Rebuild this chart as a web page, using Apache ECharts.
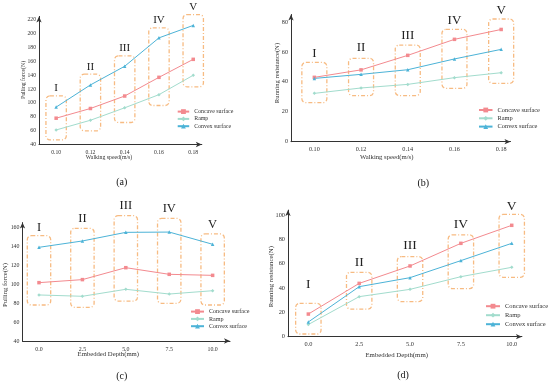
<!DOCTYPE html>
<html>
<head>
<meta charset="utf-8">
<script src="https://cdn.jsdelivr.net/npm/echarts@6/dist/echarts.min.js"></script>
<style>html,body{margin:0;padding:0;background:#fff;}#c{width:550px;height:385px;}</style>
</head>
<body>
<div id="c"></div>
<script>
// ---- data ----
const speedTicks = [0.10, 0.12, 0.14, 0.16, 0.18];
const depthTicks = [0, 2.5, 5, 7.5, 10];
const numerals = ['I', 'II', 'III', 'IV', 'V'];
const seriesNames = ['Concave surface', 'Ramp', 'Convex surface'];

const aConcave = [78, 92, 110, 137, 163];
const aRamp = [61, 75, 93, 112, 140];
const aConvex = [94, 126, 153, 194, 212];
const aBoxTop = [110.3, 141.6, 168, 208.5, 227.7];
const aBoxBottom = [46.8, 59.8, 71.8, 96.3, 123.3];
const aNumeralY = [121.8, 152, 178.6, 219.5, 237.8];
const aYTicks = [40, 60, 80, 100, 120, 140, 160, 180, 200, 220];

const bConcave = [43, 48, 57.7, 68.4, 75];
const bRamp = [32.3, 35.9, 38.3, 42.8, 46.1];
const bConvex = [42.3, 45, 48.1, 55.3, 61.7];
const bBoxTop = [53, 55.7, 64.6, 75.1, 82];
const bBoxBottom = [26.1, 30.8, 30.8, 35.7, 39];
const bNumeralY = [59.1, 62.8, 70.9, 80.7, 87.4];
const bYTicks = [0, 20, 40, 60, 80];

const cConcave = [101.6, 104.8, 117.4, 110.4, 109.3];
const cRamp = [88.6, 87.2, 94.6, 89.6, 93.1];
const cConvex = [138.9, 145.6, 154.7, 155, 142.1];
const cBoxTop = [151.2, 159, 172.3, 169.5, 153];
const cBoxBottom = [78, 75.6, 82.2, 79.8, 78];
const cNumeralY = [160, 169.5, 182.9, 179.4, 162.8];
const cYTicks = [40, 60, 80, 100, 120, 140, 160];

const dConcave = [18.6, 43.8, 58.1, 76.7, 91.5];
const dRamp = [10, 32.9, 38.9, 49.3, 57];
const dConvex = [12.1, 41.1, 48.5, 62.5, 76.7];
const dBoxTop = [27.4, 52.9, 65.8, 83.6, 100.5];
const dBoxBottom = [2.2, 22.7, 28.8, 39.5, 48.8];
const dNumeralY = [43, 60.8, 75.3, 92.3, 107.4];
const dYTicks = [0, 20, 40, 60, 80, 100];

// ---- layout / style ----
const colors = ['#f38a8f', '#a2dccd', '#4cb3d7'];
const symbols = ['rect', 'diamond', 'triangle'];
const boxColor = '#f7bb82';
const FONT = '"Liberation Serif", "Times New Roman", serif';

const panels = [
  { x: speedTicks, ys: [aConcave, aRamp, aConvex], top: aBoxTop, bot: aBoxBottom, ny: aNumeralY, yt: aYTicks,
    grid: { left: 39, top: 16.4, width: 162.8, height: 128.1 }, xmin: 0.09, xmax: 0.185, ymin: 40, ymax: 225,
    hw: 10.2, numSize: 11, fs: 5.7, tfs: 5.8, xTitle: 'Walking speed(m/s)', yTitle: 'Pulling force(N)',
    xt: [109, 157.7], ytp: [23.3, 80], tag: '(a)', tagp: [121.7, 182.7],
    legend: { left: 176.7, top: 108.6, itemWidth: 11.5, gap: 1.3 } },
  { x: speedTicks, ys: [bConcave, bRamp, bConvex], top: bBoxTop, bot: bBoxBottom, ny: bNumeralY, yt: bYTicks,
    grid: { left: 291, top: 14.5, width: 219.5, height: 127.2 }, xmin: 0.09, xmax: 0.184, ymin: 0, ymax: 85,
    hw: 12.5, numSize: 13, fs: 6.2, tfs: 6.7, xTitle: 'Walking speed(m/s)', yTitle: 'Running resistance(N)',
    xt: [386.7, 157.7], ytp: [277.7, 73], tag: '(b)', tagp: [423.3, 183.3],
    legend: { left: 478, top: 107, itemWidth: 13.5, gap: 2.3 } },
  { x: depthTicks, ys: [cConcave, cRamp, cConvex], top: cBoxTop, bot: cBoxBottom, ny: cNumeralY, yt: cYTicks,
    grid: { left: 22.5, top: 222.6, width: 207.5, height: 118.4 }, xmin: -0.95, xmax: 11, ymin: 40, ymax: 165,
    hw: 11.7, numSize: 12.5, fs: 5.9, tfs: 6.7, xTitle: 'Embedded Depth(mm)', yTitle: 'Pulling force(N)',
    xt: [108.3, 354.7], ytp: [5.7, 285], tag: '(c)', tagp: [121.7, 376],
    legend: { left: 190, top: 308.6, itemWidth: 13, gap: 1.3 } },
  { x: depthTicks, ys: [dConcave, dRamp, dConvex], top: dBoxTop, bot: dBoxBottom, ny: dNumeralY, yt: dYTicks,
    grid: { left: 288, top: 210.1, width: 233.9, height: 126.6 }, xmin: -1, xmax: 10.5, ymin: 0, ymax: 104,
    hw: 12.7, numSize: 13.5, fs: 6.3, tfs: 6.8, xTitle: 'Embedded Depth(mm)', yTitle: 'Running resistance(N)',
    xt: [396.7, 355], ytp: [271.7, 276.7], tag: '(d)', tagp: [403, 375.7],
    legend: { left: 485, top: 302.7, itemWidth: 14, gap: 2 } }
];

const option = { animation: false, backgroundColor: '#fff', grid: [], xAxis: [], yAxis: [], series: [], legend: [], graphic: [] };

const axisLineStyle = { show: true, lineStyle: { color: '#333', width: 1 }, symbol: ['none', 'arrow'], symbolSize: [4, 6] };

panels.forEach((p, i) => {
  option.grid.push(Object.assign({ containLabel: false }, p.grid));
  const fmt = v => (p.x === speedTicks ? v.toFixed(2) : v.toFixed(1));
  option.xAxis.push({
    type: 'value', gridIndex: i, min: p.xmin, max: p.xmax,
    axisLine: Object.assign({ onZero: false }, axisLineStyle),
    axisTick: { show: false }, splitLine: { show: false },
    axisLabel: { customValues: p.x, formatter: fmt, fontFamily: FONT, fontSize: p.fs, color: '#333', margin: 5 }
  });
  option.yAxis.push({
    type: 'value', gridIndex: i, min: p.ymin, max: p.ymax,
    axisLine: Object.assign({ onZero: false }, axisLineStyle),
    axisTick: { show: false }, splitLine: { show: false },
    axisLabel: { customValues: p.yt, fontFamily: FONT, fontSize: p.fs, color: '#333', margin: 3 }
  });
  // boxes + numerals
  const boxData = p.x.map((xv, k) => [xv, p.top[k], p.bot[k], p.ny[k], k]);
  option.series.push({
    type: 'custom', xAxisIndex: i, yAxisIndex: i, silent: true, clip: false, z: 1,
    data: boxData,
    renderItem: (params, api) => {
      const xv = api.value(0);
      const c1 = api.coord([xv, api.value(1)]);
      const c2 = api.coord([xv, api.value(2)]);
      const cl = api.coord([xv, api.value(3)]);
      const k = api.value(4);
      return {
        type: 'group',
        children: [
          { type: 'rect', shape: { x: c1[0] - p.hw, y: c1[1], width: 2 * p.hw, height: c2[1] - c1[1], r: 4 },
            style: { fill: 'none', stroke: boxColor, lineWidth: 1.3, lineDash: [4, 2, 1, 2] } },
          { type: 'text', x: cl[0], y: cl[1],
            style: { text: numerals[k], fontFamily: FONT, fontSize: p.numSize, fill: '#222', align: 'center', verticalAlign: 'middle' } }
        ]
      };
    }
  });
  p.ys.forEach((ys, s) => {
    option.series.push({
      type: 'line', name: seriesNames[s], xAxisIndex: i, yAxisIndex: i, z: 3,
      data: p.x.map((xv, k) => [xv, ys[k]]),
      symbol: symbols[s], symbolSize: 3.5, showSymbol: true,
      itemStyle: { color: colors[s] }, lineStyle: { color: colors[s], width: 1 }
    });
  });
  option.legend.push({
    data: seriesNames, orient: 'vertical', left: p.legend.left, top: p.legend.top, padding: 0,
    itemWidth: p.legend.itemWidth, itemHeight: 6, itemGap: p.legend.gap, selectedMode: false,
    textStyle: { fontFamily: FONT, fontSize: p.fs + 0.2, color: '#333', lineHeight: 6 }
  });
  const tstyle = { fontFamily: FONT, fontSize: p.tfs, fill: '#333', align: 'center', verticalAlign: 'middle' };
  option.graphic.push(
    { type: 'text', x: p.xt[0], y: p.xt[1], style: Object.assign({ text: p.xTitle }, tstyle) },
    { type: 'text', x: p.ytp[0], y: p.ytp[1], rotation: Math.PI / 2, style: Object.assign({ text: p.yTitle }, tstyle) },
    { type: 'text', x: p.tagp[0], y: p.tagp[1], style: Object.assign({}, tstyle, { text: p.tag, fontSize: 10, fill: '#111' }) }
  );
});

const chart = echarts.init(document.getElementById('c'), null, { renderer: 'canvas' });
chart.setOption(option);
</script>
</body>
</html>
